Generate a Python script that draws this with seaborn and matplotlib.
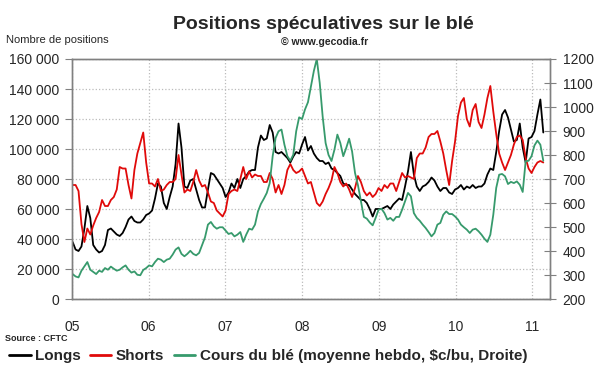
import numpy as np
import pandas as pd
import matplotlib
matplotlib.use("Agg")
import matplotlib.pyplot as plt
import matplotlib.dates as mdates
from matplotlib.lines import Line2D
from matplotlib.ticker import FuncFormatter, MultipleLocator
import seaborn as sns

# ── Data (bi-weekly readings, CFTC positions in thousands, wheat price in $c/bu) ──
START = "2005-01-04"
N_POINTS = 161

longs_k = [38, 33, 32, 35, 47, 62, 54, 36, 33, 31,
           32, 36, 46, 47, 45, 43, 42, 44, 48, 53,
           55, 52, 51, 51, 53, 56, 57, 59, 67, 77,
           75, 64, 60, 68, 75, 90, 117, 101, 75, 74,
           79, 80, 73, 66, 61, 61, 73, 84, 83, 80,
           77, 74, 68, 71, 77, 74, 80, 74, 80, 82,
           85, 86, 86, 101, 109, 106, 107, 116, 111, 98,
           97, 98, 96, 94, 91, 95, 98, 97, 103, 108,
           99, 102, 97, 94, 92, 92, 90, 91, 87, 86,
           84, 82, 77, 76, 76, 73, 70, 68, 66, 66,
           64, 60, 55, 60, 60, 60, 61, 62, 60, 63,
           65, 67, 66, 75, 85, 98, 83, 75, 72, 75,
           76, 78, 81, 79, 75, 72, 74, 74, 71, 70,
           73, 74, 76, 73, 75, 74, 76, 74, 75, 75,
           77, 83, 87, 86, 98, 112, 123, 126, 121, 113,
           105, 106, 117, 101, 91, 107, 108, 112, 123, 133,
           111]

shorts_k = [76, 76, 72, 50, 38, 47, 43, 49, 54, 58,
            66, 62, 62, 66, 68, 73, 88, 87, 87, 76,
            67, 86, 97, 104, 111, 91, 77, 77, 75, 80,
            72, 73, 76, 78, 78, 80, 96, 83, 71, 73,
            72, 78, 86, 79, 75, 76, 71, 65, 64, 59,
            57, 55, 59, 70, 72, 73, 72, 80, 88, 80,
            85, 81, 83, 82, 82, 78, 78, 84, 80, 71,
            76, 70, 76, 86, 90, 86, 84, 85, 87, 82,
            77, 78, 71, 64, 62, 65, 70, 74, 79, 88,
            84, 78, 75, 77, 73, 68, 74, 82, 78, 72,
            69, 71, 68, 70, 74, 72, 76, 74, 77, 77,
            72, 78, 84, 81, 82, 81, 80, 94, 97, 97,
            101, 108, 110, 110, 112, 105, 97, 86, 76, 92,
            105, 122, 131, 134, 120, 115, 126, 130, 118, 114,
            123, 134, 142, 125, 110, 97, 91, 86, 91, 96,
            103, 108, 109, 106, 94, 87, 84, 88, 91, 92,
            91]

cours = [304, 294, 290, 318, 336, 354, 322, 313, 304, 318,
         313, 329, 322, 335, 326, 318, 322, 332, 340, 322,
         310, 315, 301, 299, 321, 329, 340, 336, 354, 368,
         364, 354, 364, 368, 385, 406, 415, 388, 378, 388,
         401, 388, 382, 392, 424, 457, 510, 521, 503, 493,
         499, 499, 485, 471, 475, 461, 468, 479, 438, 468,
         493, 489, 510, 565, 596, 618, 642, 683, 795, 871,
         899, 906, 843, 795, 776, 801, 899, 957, 950, 990,
         1020, 1085, 1150, 1200, 1100, 960, 850, 800, 775, 822,
         885, 850, 795, 829, 868, 815, 725, 674, 607, 542,
         535, 519, 507, 538, 572, 576, 558, 531, 538, 526,
         542, 542, 572, 607, 642, 628, 558, 538, 526, 510,
         496, 479, 461, 475, 510, 517, 551, 565, 554, 554,
         544, 531, 510, 499, 489, 475, 489, 493, 482, 468,
         451, 438, 468, 551, 663, 718, 721, 711, 679, 688,
         683, 690, 676, 646, 774, 776, 795, 840, 860, 843,
         776]

LEGEND_LABELS = ["Longs", "Shorts", "Cours du blé (moyenne hebdo, $c/bu, Droite)"]
COLORS = {"longs": "#000000", "shorts": "#E00A0A", "cours": "#379A6C"}
SPINE = "#808080"

df = pd.DataFrame({
    "date": pd.date_range(START, periods=N_POINTS, freq="14D"),
    "longs": np.array(longs_k) * 1000,
    "shorts": np.array(shorts_k) * 1000,
    "cours": cours,
})

# ── Style ──
sns.set_style("white")
plt.rcParams["font.family"] = ["Liberation Sans", "DejaVu Sans"]

fig = plt.figure(figsize=(6, 3.72), dpi=100)
ax = fig.add_axes([0.12, 0.1962, 0.7967, 0.6452])

sns.lineplot(data=df, x="date", y="longs", ax=ax, color=COLORS["longs"], lw=1.3)
sns.lineplot(data=df, x="date", y="shorts", ax=ax, color=COLORS["shorts"], lw=1.3)

ax2 = ax.twinx()
sns.lineplot(data=df, x="date", y="cours", ax=ax2, color=COLORS["cours"], lw=1.3)

ax.set_xlim(pd.Timestamp("2005-01-01"), pd.Timestamp("2011-03-26"))
ax.set_ylim(0, 160000)
ax2.set_ylim(200, 1200)
ax.yaxis.set_major_locator(MultipleLocator(20000))
ax2.yaxis.set_major_locator(MultipleLocator(100))
ax.yaxis.set_major_formatter(FuncFormatter(lambda v, _: f"{v:,.0f}".replace(",", " ")))
ax.xaxis.set_major_locator(mdates.YearLocator())
ax.xaxis.set_major_formatter(mdates.DateFormatter("%y"))

for a in (ax, ax2):
    a.set_xlabel("")
    a.set_ylabel("")
    for s in a.spines.values():
        s.set_color(SPINE)
        s.set_linewidth(1.0)

ax.grid(True, color="#BBBBBB", linestyle=":", linewidth=0.9)
ax.tick_params(axis="y", direction="out", length=5, color=SPINE, labelsize=10, pad=4)
ax.tick_params(axis="x", direction="inout", length=8, color=SPINE, labelsize=10, pad=11)
ax2.tick_params(axis="y", direction="inout", length=8, color=SPINE, labelsize=10, pad=5)

# ── Texts ──
fig.text(323 / 600, 1 - 29 / 372, "Positions spéculatives sur le blé",
         ha="center", va="baseline", fontsize=14, fontweight="bold")
fig.text(325 / 600, 1 - 45 / 372, "© www.gecodia.fr",
         ha="center", va="baseline", fontsize=7.5, fontweight="bold")
fig.text(6 / 600, 1 - 43 / 372, "Nombre de positions",
         ha="left", va="baseline", fontsize=8)
fig.text(5 / 600, 1 - 341 / 372, "Source : CFTC",
         ha="left", va="baseline", fontsize=6.5, fontweight="bold")

handles = [Line2D([], [], color=COLORS[k], lw=2) for k in ("longs", "shorts", "cours")]
fig.legend(handles, LEGEND_LABELS, loc="center left",
           bbox_to_anchor=(0.0, 1 - 356 / 372), ncol=3, frameon=False,
           prop={"size": 11, "weight": "bold"}, handlelength=1.4,
           handletextpad=0.3, columnspacing=0.6, borderaxespad=0.2)

fig.savefig("out.png", dpi=100)
